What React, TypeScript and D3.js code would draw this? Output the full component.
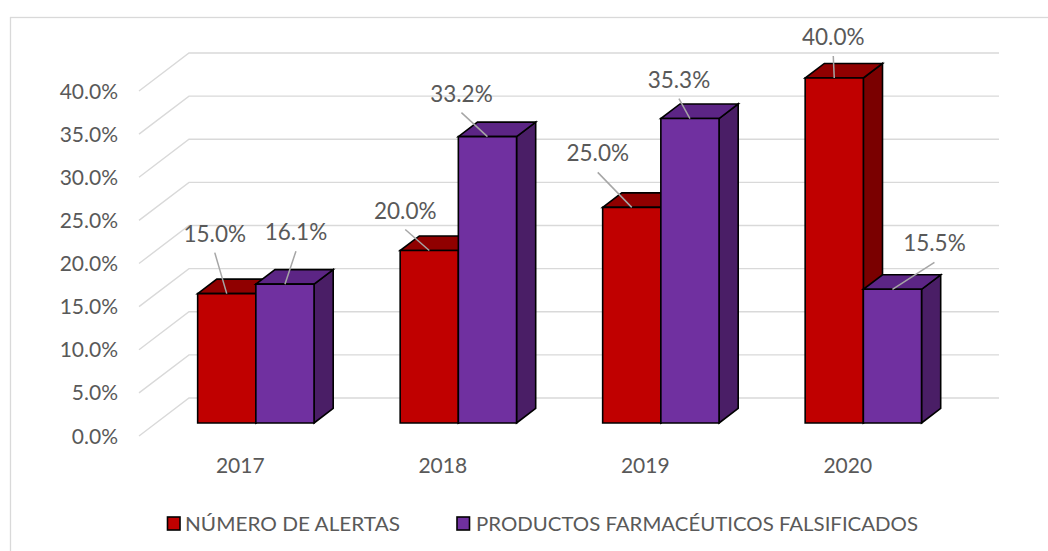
import React from 'react';
import * as d3 from 'd3';

const categories = ['2017', '2018', '2019', '2020'];
const alertas = [15.0, 20.0, 25.0, 40.0];
const productos = [16.1, 33.2, 35.3, 15.5];
const seriesNames = ['NÚMERO DE ALERTAS', 'PRODUCTOS FARMACÉUTICOS FALSIFICADOS'];
const yTicks = [0, 5, 10, 15, 20, 25, 30, 35, 40];

// manual data-label offsets (label centre relative to bar's front-top centre)
const alertasLabelOffsets = [[-12, -60], [-24, -40], [-34, -54], [-1, -41]];
const productosLabelOffsets = [[11, -52], [-26, -43], [-11, -39], [42, -46]];

const W = 1048;
const H = 551;
const X0 = 139; // front-left of floor
const X1 = 949; // front-right of floor
const DX = 50; // depth offset
const DY = 38;
const D1 = 0.342; // bar front depth fraction
const D2 = 0.725; // bar back depth fraction
const TEXT = '#595959';
const FONT = 'Lato, "Open Sans", sans-serif';

const seriesStyles = [
  { front: '#C00000', top: '#900000', side: '#7A0000' },
  { front: '#7030A0', top: '#5C2585', side: '#4A1E66' },
];

export default function App() {
  const yScale = d3.scaleLinear().domain([0, 40]).range([436, 91]);
  const xBand = d3.scaleBand<string>().domain(categories).range([X0, X1]).padding(0);
  const inner = d3
    .scaleBand<number>()
    .domain([0, 1])
    .range([0, xBand.step()])
    .paddingInner(0)
    .paddingOuter(0.74);

  const P = (x: number, v: number, d: number): [number, number] => [x + d * DX, yScale(v) - d * DY];
  const pts = (arr: [number, number][]) => arr.map((p) => p.join(',')).join(' ');

  const seriesData = [alertas, productos];
  const offsets = [alertasLabelOffsets, productosLabelOffsets];

  const bars: React.ReactNode[] = [];
  const labels: React.ReactNode[] = [];
  categories.forEach((c, ci) => {
    seriesData.forEach((vals, si) => {
      const v = vals[ci];
      const xa = (xBand(c) as number) + (inner(si) as number) - 1.5;
      const xb = xa + inner.bandwidth();
      const st = seriesStyles[si];
      const front = [P(xa, 0, D1), P(xb, 0, D1), P(xb, v, D1), P(xa, v, D1)] as [number, number][];
      const top = [P(xa, v, D1), P(xb, v, D1), P(xb, v, D2), P(xa, v, D2)] as [number, number][];
      const side = [P(xb, 0, D1), P(xb, 0, D2), P(xb, v, D2), P(xb, v, D1)] as [number, number][];
      bars.push(
        <g key={`b-${ci}-${si}`} stroke="#000" strokeWidth={1.6} strokeLinejoin="miter">
          <polygon points={pts(side)} fill={st.side} />
          <polygon points={pts(top)} fill={st.top} />
          <polygon points={pts(front)} fill={st.front} />
        </g>
      );
      const [cx, cy] = P((xa + xb) / 2, v, D1);
      const [ox, oy] = offsets[si][ci];
      const lx = cx + ox;
      const ly = cy + oy;
      labels.push(
        <g key={`l-${ci}-${si}`}>
          <line x1={lx} y1={ly + 19} x2={cx} y2={cy} stroke="#A6A6A6" strokeWidth={1.5} />
          <text x={lx} y={ly} dy="0.36em" textAnchor="middle" fontSize={22.5} fill={TEXT} fontFamily={FONT}>
            {v.toFixed(1)}%
          </text>
        </g>
      );
    });
  });

  return (
    <svg width={W} height={H} style={{ position: 'absolute', left: 0, top: 0, background: '#fff' }}>
      <rect x={0} y={0} width={W} height={H} fill="#fff" />
      <rect x={10.5} y={17.5} width={W + 20} height={H + 20} fill="#fff" stroke="#D9D9D9" strokeWidth={1.3} />
      {/* gridlines */}
      <g stroke="#D9D9D9" strokeWidth={1.4} fill="none">
        {yTicks.map((t) => {
          const a = P(X0, t, 0);
          const b = P(X0, t, 1);
          const c = P(X1, t, 1);
          return <polyline key={t} points={pts([a, b, c])} />;
        })}
      </g>
      {/* y tick labels */}
      <g fontFamily={FONT} fontSize={21} fill={TEXT}>
        {yTicks.map((t) => (
          <text key={t} x={118} y={yScale(t)} dy="0.36em" textAnchor="end">
            {t.toFixed(1)}%
          </text>
        ))}
      </g>
      {/* category labels */}
      <g fontFamily={FONT} fontSize={21} fill={TEXT}>
        {categories.map((c) => (
          <text key={c} x={(xBand(c) as number) + xBand.bandwidth() / 2} y={465} dy="0.36em" textAnchor="middle">
            {c}
          </text>
        ))}
      </g>
      {bars}
      {labels}
      {/* legend */}
      <g fontFamily={FONT} fontSize={20} fill={TEXT}>
        <rect x={167.5} y={517} width={12.5} height={13} fill={seriesStyles[0].front} stroke="#000" strokeWidth={1.6} />
        <text x={185} y={523.5} dy="0.36em" textLength={215} lengthAdjust="spacingAndGlyphs">{seriesNames[0]}</text>
        <rect x={457} y={517} width={12.5} height={13} fill={seriesStyles[1].front} stroke="#000" strokeWidth={1.6} />
        <text x={476} y={523.5} dy="0.36em" textLength={442} lengthAdjust="spacingAndGlyphs">{seriesNames[1]}</text>
      </g>
    </svg>
  );
}
